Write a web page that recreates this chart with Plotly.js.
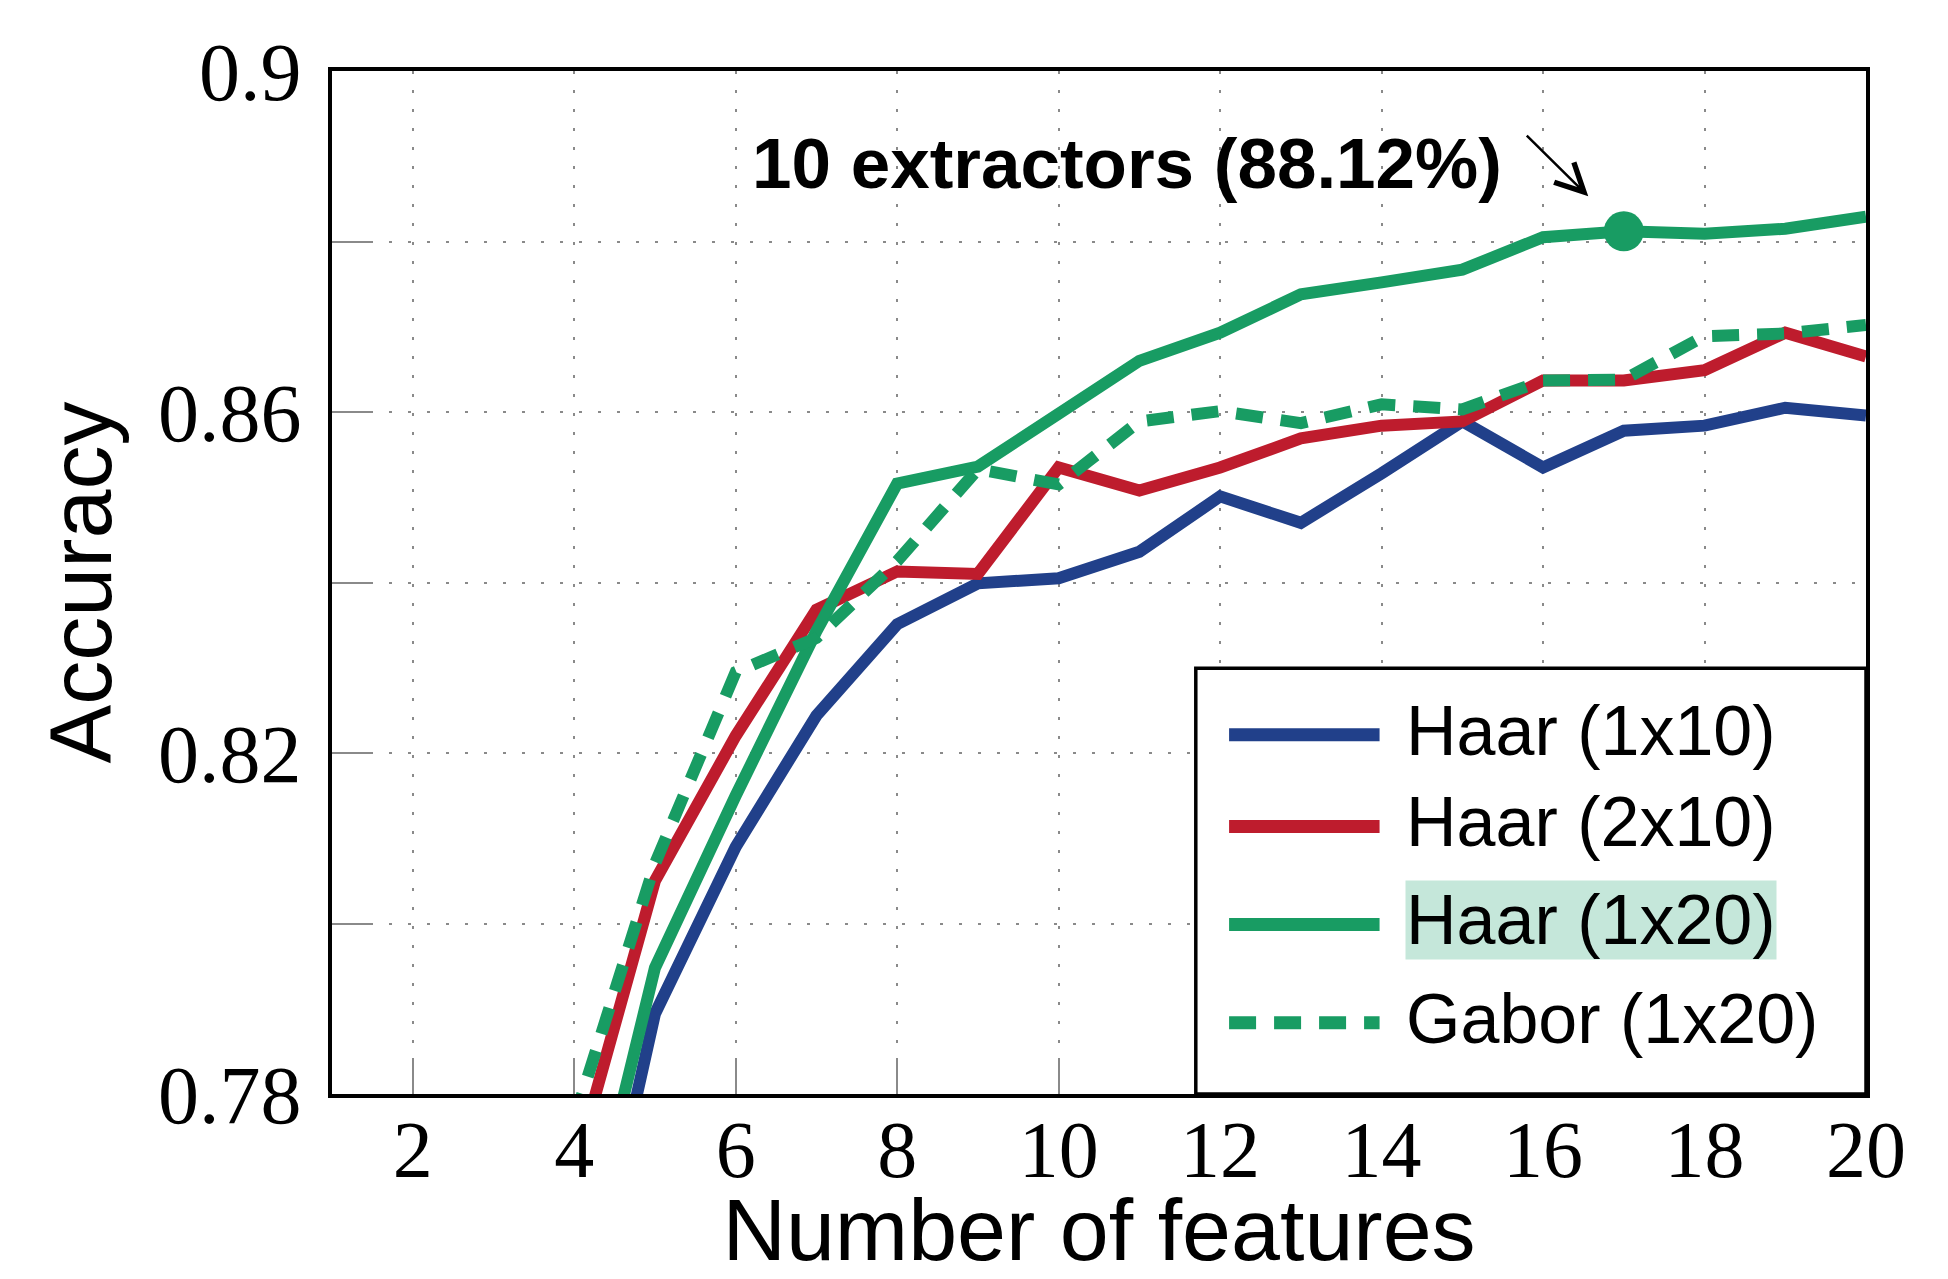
<!DOCTYPE html>
<html>
<head>
<meta charset="utf-8">
<script src="https://cdn.plot.ly/plotly-3.0.1.min.js"></script>
<style>html,body{margin:0;padding:0;background:#fff;}#chart{width:1948px;height:1279px;}</style>
</head>
<body>
<div id="chart"></div>
<script>
// ---- data ----
const features = [4,5,6,7,8,9,10,11,12,13,14,15,16,17,18,19,20];
const haar1x10 = [0.747,0.7894,0.809,0.8244,0.8351,0.8399,0.8405,0.8436,0.8501,0.8470,0.8528,0.8589,0.8535,0.8578,0.8584,0.8605,0.8596];
const haar2x10 = [0.771,0.805,0.822,0.8368,0.8413,0.8410,0.8535,0.8508,0.8535,0.8569,0.8584,0.8589,0.8637,0.8637,0.8649,0.8693,0.8665];
const haar1x20 = [0.756,0.7948,0.815,0.8343,0.8516,0.8536,0.8598,0.8660,0.8693,0.8738,0.8752,0.8767,0.8805,0.8812,0.8809,0.8815,0.8829];
const gabor1x20 = [0.777,0.807,0.8295,0.8335,0.8425,0.8533,0.8515,0.8589,0.8601,0.8587,0.8609,0.8603,0.8637,0.8638,0.8689,0.8692,0.8702];
const seriesNames = ['Haar (1x10)','Haar (2x10)','Haar (1x20)','Gabor (1x20)'];
const xTickVals = [2,4,6,8,10,12,14,16,18,20];
const yTickVals = [0.78,0.80,0.82,0.84,0.86,0.88,0.90];
const yTickText = ['0.78','','0.82','','0.86','','0.9'];
const highlightX = 17;
const annotationText = '10 extractors (88.12%)';

// ---- styles ----
const colors = ['#21408a','#be1c2d','#189c63','#189c63'];
const dashes = ['solid','solid','solid','27px,18px'];
const seriesData = [haar1x10, haar2x10, haar1x20, gabor1x20];
const LW = 12;

const traces = seriesData.map((ys,i)=>({
  type:'scatter', mode:'lines', name:seriesNames[i],
  x:features, y:ys,
  line:{color:colors[i], width:LW, dash:dashes[i]},
  hoverinfo:'skip', showlegend:false
}));
const hi = features.indexOf(highlightX);
traces.push({
  type:'scatter', mode:'markers', x:[features[hi]], y:[haar1x20[hi]],
  marker:{color:colors[2], size:40}, showlegend:false, hoverinfo:'skip', cliponaxis:false
});

// custom legend (paper coordinates)
const legBox = {x0:0.5631, x1:1.0, y0:0.0, y1:0.4163};
const legRowsY = [0.3512,0.2616,0.1656,0.0696];
const legLineX = [0.5848,0.6829];
const legTextX = 0.7013;

const shapes = [{
  type:'rect', xref:'paper', yref:'paper', x0:legBox.x0, x1:legBox.x1, y0:legBox.y0, y1:legBox.y1,
  line:{color:'black', width:3.5}, fillcolor:'white', layer:'above'
}];
seriesNames.forEach((n,i)=>{
  shapes.push({type:'line', xref:'paper', yref:'paper', x0:legLineX[0], x1:legLineX[1], y0:legRowsY[i], y1:legRowsY[i],
    line:{color:colors[i], width:13, dash:dashes[i]}, layer:'above'});
});

const annotations = seriesNames.map((n,i)=>({
  xref:'paper', yref:'paper', x:legTextX - 0.002, y:legRowsY[i]+0.004, xanchor:'left', yanchor:'middle',
  text:n, showarrow:false, font:{family:'Liberation Sans, Arial, sans-serif', size:70, color:'black'},
  bgcolor: i===2 ? '#c5e7da' : 'rgba(0,0,0,0)', borderpad:0
}));
annotations.push({
  xref:'x', yref:'y', x:10.85, y:0.8892, xanchor:'center', yanchor:'middle',
  text:'<b>'+annotationText+'</b>', showarrow:false,
  font:{family:'Liberation Sans, Arial, sans-serif', size:71, color:'black'}
});
annotations.push({
  xref:'x', yref:'y', x:16.56, y:0.8853, axref:'x', ayref:'y', ax:15.78, ay:0.8926,
  text:'', showarrow:true, arrowhead:5, arrowsize:2.2, arrowwidth:2.5, arrowcolor:'black', standoff:0
});

const gridStyle = {showgrid:true, gridcolor:'#8a8a8a', gridwidth:2, griddash:'3px,16px'};
const layout = {
  width:1948, height:1279,
  margin:{l:332, r:82, t:71, b:185},
  paper_bgcolor:'white', plot_bgcolor:'white',
  showlegend:false,
  font:{family:'Liberation Sans, Arial, sans-serif', color:'black'},
  xaxis:Object.assign({
    range:[1,20], tickmode:'array', tickvals:xTickVals,
    ticks:'inside', ticklen:36, tickwidth:2, tickcolor:'#8a8a8a',
    showline:true, linecolor:'black', linewidth:4, mirror:true, zeroline:false,
    tickfont:{family:'Liberation Serif, Times New Roman, serif', size:80, color:'black'},
    ticklabelstandoff:-17,
    automargin:false,
    title:{text:'Number of features', font:{family:'Liberation Sans, Arial, sans-serif', size:88, color:'black'}, standoff:46}
  }, gridStyle),
  yaxis:Object.assign({
    range:[0.78,0.9], tickmode:'array', tickvals:yTickVals, ticktext:yTickText,
    ticks:'inside', ticklen:40, tickwidth:2, tickcolor:'#8a8a8a',
    showline:true, linecolor:'black', linewidth:4, mirror:true, zeroline:false,
    tickfont:{family:'Liberation Serif, Times New Roman, serif', size:82, color:'black'},
    ticklabelstandoff:10,
    automargin:false,
    title:{text:'Accuracy', font:{family:'Liberation Sans, Arial, sans-serif', size:88, color:'black'}, standoff:18}
  }, gridStyle),
  shapes:shapes,
  annotations:annotations
};

Plotly.newPlot('chart', traces, layout, {staticPlot:true, displayModeBar:false});
</script>
</body>
</html>
